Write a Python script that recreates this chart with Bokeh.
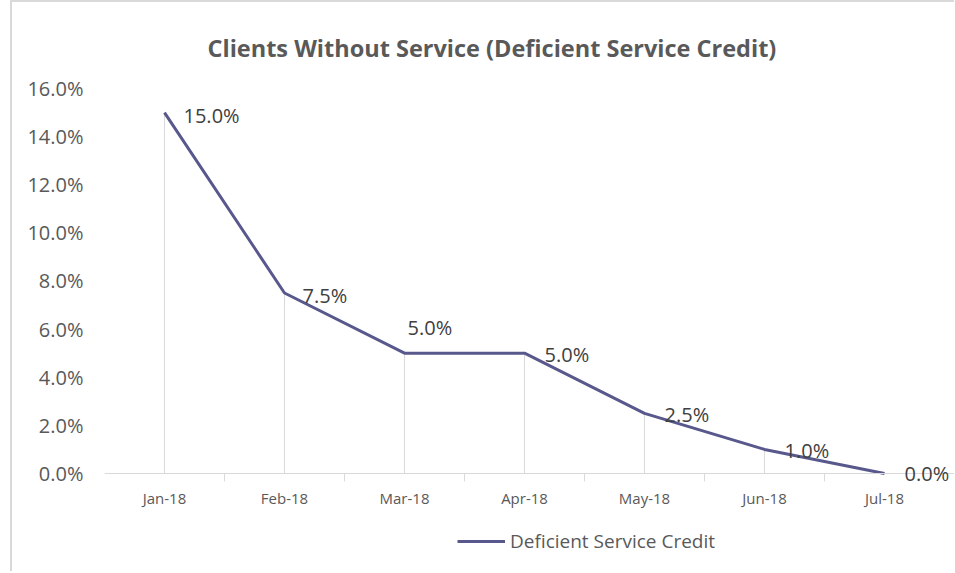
from bokeh.plotting import figure
from bokeh.layouts import column
from bokeh.models import (Range1d, FixedTicker, NumeralTickFormatter, Legend, LegendItem,
                          ColumnDataSource, Title, LabelSet, Span)
from bokeh.core.properties import value
from bokeh.embed import file_html
from bokeh.resources import INLINE

# ---- data ----
months = ["Jan-18", "Feb-18", "Mar-18", "Apr-18", "May-18", "Jun-18", "Jul-18"]
credit = [0.15, 0.075, 0.05, 0.05, 0.025, 0.01, 0.0]
credit_labels = ["15.0%", "7.5%", "5.0%", "5.0%", "2.5%", "1.0%", "0.0%"]
y_ticks = [0.0, 0.02, 0.04, 0.06, 0.08, 0.10, 0.12, 0.14, 0.16]
series_name = "Deficient Service Credit"

# label placement (style, in screen pixels; positive dy = up)
label_dx = [19, 18, 3, 20, 20, 20, 20]
label_dy = [-3, -2, 26, -1, -1, -1, 0]

xs = list(range(1, len(months) + 1))
src = ColumnDataSource(dict(x=xs, y=credit, lab=credit_labels, dx=label_dx, dy=label_dy,
                            y0=[0.0] * len(xs)))

FONT = "Open Sans"
GRAY = "#595959"
LINE = "#58588c"
AXIS = "#d9d9d9"

p = figure(frame_width=850, frame_height=393, output_backend="svg", toolbar_location=None,
           x_range=Range1d(0.5, 7.583), y_range=Range1d(-0.003325, 0.16),
           min_border_left=92, min_border_right=0, min_border_top=86, min_border_bottom=30,
           outline_line_color=None, background_fill_color="white", border_fill_color="white")

p.xgrid.grid_line_color = None
p.ygrid.grid_line_color = None

# title
p.title = Title(text="Clients Without Service (Deficient Service Credit)", align="left",
                offset=103, text_font=FONT, text_font_size="23.5px", text_font_style="bold",
                text_color=GRAY, standoff=50)

# y axis
ya = p.yaxis[0]
ya.ticker = FixedTicker(ticks=y_ticks)
ya.formatter = NumeralTickFormatter(format="0.0%")
ya.axis_line_color = None
ya.major_tick_line_color = None
ya.minor_tick_line_color = None
ya.major_tick_out = 0
ya.major_tick_in = 0
ya.major_label_standoff = 21
ya.major_label_text_font = FONT
ya.major_label_text_font_size = "20px"
ya.major_label_text_color = GRAY

# x axis
xa = p.xaxis[0]
xa.ticker = FixedTicker(ticks=xs, minor_ticks=[1.5, 2.5, 3.5, 4.5, 5.5, 6.5])
xa.major_label_overrides = {x: m for x, m in zip(xs, months)}
xa.axis_line_color = None
xa.major_tick_line_color = None
xa.major_tick_out = 0
xa.major_tick_in = 0
xa.minor_tick_line_color = AXIS
xa.minor_tick_out = 0
xa.minor_tick_in = 8
xa.major_label_standoff = 6
xa.major_label_text_font = FONT
xa.major_label_text_font_size = "15px"
xa.major_label_text_color = GRAY

# category axis baseline at 0%
p.add_layout(Span(location=0, dimension="width", line_color=AXIS, line_width=1))

# drop lines
p.segment(x0="x", y0="y0", x1="x", y1="y", source=src, line_color=AXIS, line_width=1)

# main line
r = p.line("x", "y", source=src, line_color=LINE, line_width=3, line_join="round")

# data labels
labels = LabelSet(x="x", y="y", text="lab", source=src, x_offset="dx", y_offset="dy",
                  text_font=value(FONT), text_font_size="20px", text_color="#404040",
                  text_align="left", text_baseline="middle")
p.add_layout(labels)

# legend strip below the chart (same series, kept out of view; only its legend shows)
pl = figure(width=942, height=60, output_backend="svg", toolbar_location=None,
            x_range=Range1d(-2, -1), y_range=Range1d(0, 1),
            x_axis_location=None, y_axis_location=None,
            min_border=0, outline_line_color=None,
            background_fill_color="white", border_fill_color="white")
pl.xgrid.grid_line_color = None
pl.ygrid.grid_line_color = None
swatch = pl.line("x", "y", source=src, line_color=LINE, line_width=3)
legend = Legend(items=[LegendItem(label=series_name, renderers=[swatch])],
                location=(353, 17), orientation="horizontal", border_line_color=None,
                background_fill_alpha=0, glyph_width=48, glyph_height=20, label_height=20,
                label_standoff=5, padding=0, margin=0,
                label_text_font=FONT, label_text_font_size="19px", label_text_color=GRAY)
pl.add_layout(legend, "center")

layout = column(p, pl, spacing=0,
                styles={"border-left": "2px solid #d9d9d9", "border-top": "2px solid #d9d9d9",
                        "margin-left": "10px"})

open("out.html", "w").write(file_html(layout, INLINE))
